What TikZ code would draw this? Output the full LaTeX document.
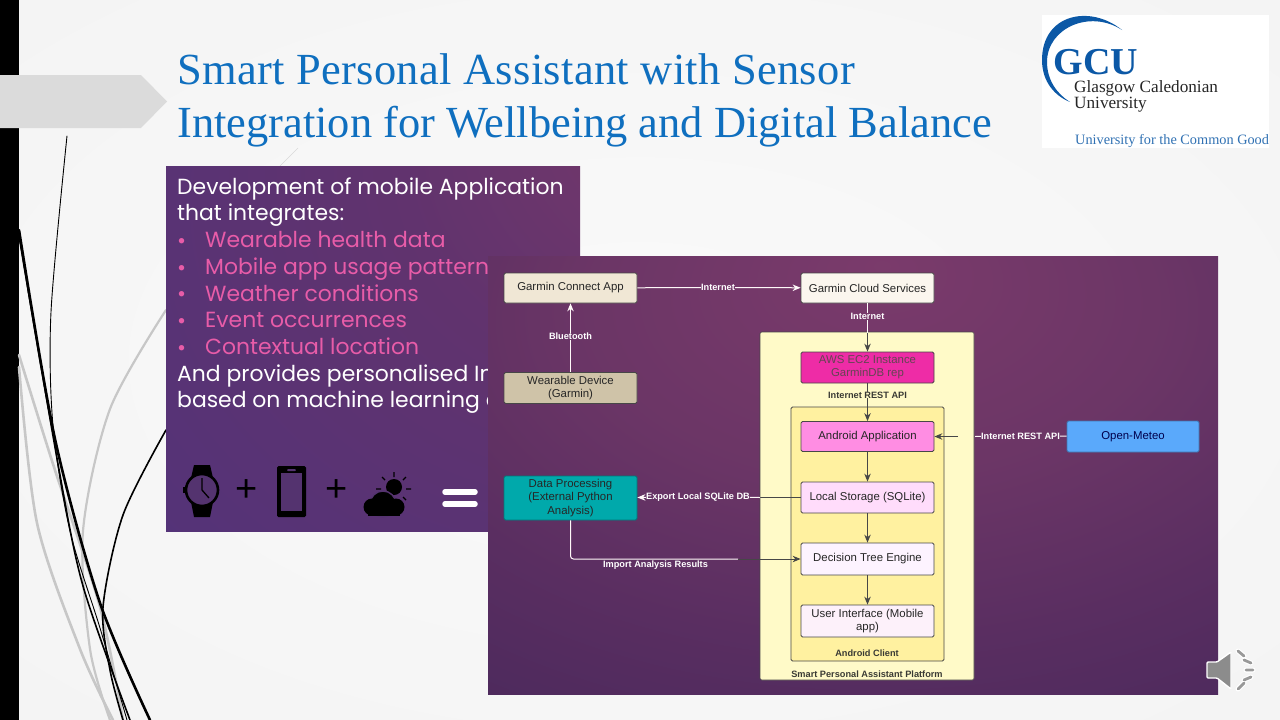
\documentclass[tikz,border=0pt]{standalone}
\usepackage{fontspec}
\setmainfont{Liberation Sans}
\newfontfamily\titlefont{Liberation Serif}
\newfontfamily\gothicfont{Poppins}
\usetikzlibrary{
    arrows.meta,
    shapes,
    backgrounds,
    calc,
    positioning,
}
\definecolor{titleBlue}{HTML}{0F6FBF}
\definecolor{logoBlue}{HTML}{0B58A6}
\definecolor{softPink}{HTML}{E85CA8}
\definecolor{edgeDark}{HTML}{474747}
\definecolor{labelDark}{HTML}{3A3A34}
\definecolor{iconBack}{HTML}{54336F}
\definecolor{platformYellow}{HTML}{FFFAC8}
\definecolor{clientYellow}{HTML}{FFF1A0}
\definecolor{connectBeige}{HTML}{F0E7D5}
\definecolor{cloudCream}{HTML}{FBF6EE}
\definecolor{wearableTan}{HTML}{CFC3A8}
\definecolor{processTeal}{HTML}{00A9AB}
\definecolor{awsMagenta}{HTML}{EE2CA6}
\definecolor{appPink}{HTML}{FF8DE3}
\definecolor{storePink}{HTML}{FFDCFB}
\definecolor{enginePale}{HTML}{FDF3FF}
\definecolor{screenPale}{HTML}{FDF1FA}
\definecolor{meteoBlue}{HTML}{5AA9FB}
\pgfdeclareradialshading{slideGlow}{\pgfpoint{0bp}{0bp}}{
    color(0bp)=(white!98!black); color(30bp)=(white!96!black); color(60bp)=(white!94!black); color(100bp)=(white!93!black)}
\pgfdeclareradialshading{rightGlow}{\pgfpoint{2bp}{24bp}}{
    rgb(0bp)=(.48,.23,.42); rgb(20bp)=(.42,.21,.40); rgb(35bp)=(.35,.18,.38); rgb(50bp)=(.29,.16,.36); rgb(100bp)=(.27,.15,.34)}
\pgfdeclareradialshading{leftGlow}{\pgfpoint{48bp}{38bp}}{
    rgb(0bp)=(.49,.23,.41); rgb(30bp)=(.38,.20,.43); rgb(60bp)=(.33,.20,.47); rgb(100bp)=(.25,.15,.36)}

\begin{document}
\begin{tikzpicture}[x=1pt,y=-1pt,>={Stealth[length=8pt,width=6.5pt]},auto]

    \tikzstyle{commonNode}=[rectangle, rounded corners=1.5pt, draw=edgeDark, line width=0.8pt, text=black!85, align=center, minimum width=133pt, inner sep=0pt, font=\fontsize{11.4}{13.2}\selectfont]
    \tikzstyle{flowLight}=[->, white!90!pink, line width=1pt]
    \tikzstyle{plainLight}=[white!90!pink, line width=1pt]
    \tikzstyle{flowDark}=[->, edgeDark, line width=1pt]
    \tikzstyle{plainDark}=[edgeDark, line width=1pt]
    \tikzstyle{lightLabel}=[inner sep=0pt, text=white, font=\fontsize{9.2}{10}\selectfont\bfseries]
    \tikzstyle{darkLabel}=[lightLabel, text=labelDark]
    \tikzstyle{gothicLine}=[anchor=west, inner sep=0pt, align=left, font=\fontsize{21.9}{26.65}\selectfont\gothicfont]
    \tikzstyle{grassBlack}=[black, line cap=round]
    \tikzstyle{grassGray}=[black!22, line cap=round]

    % Slide background
    \shade[shading=slideGlow] (0,0) rectangle (1280,720);
    \useasboundingbox (0,0) rectangle (1280,720);
    \fill[black] (0,0) rectangle (19,720);
    \fill[black!14] (0,75) -- (141,75) -- (167,101.5) -- (141,128) -- (0,128) -- cycle;

    % Stems on the left
    \draw[grassGray, line width=2.6pt] plot[smooth] coordinates {(19,355) (53,464) (100,607) (123,720)};
    \draw[grassGray, line width=2.6pt] plot[smooth] coordinates {(19,367) (37,523) (80,649) (113,720)};
    \draw[grassGray, line width=2.2pt] plot[smooth] coordinates {(166,310) (110,409) (83,531) (90,649) (110,720)};
    \draw[black!15, line width=0.6pt] (298,148) -- (280,166);
    \draw[grassBlack, line width=0.9pt] plot[smooth] coordinates {(67,136) (51,312) (53,426) (70,531) (100,628) (127,720)};
    \draw[grassBlack, line width=1.6pt] plot[smooth] coordinates {(19,236) (58,464) (83,586) (130,720)};
    \draw[grassBlack, line width=1.6pt] plot[smooth] coordinates {(166,430) (123,515) (103,607) (110,670) (123,720)};
    \draw[grassBlack, line width=2.6pt] plot[smooth] coordinates {(19,230) (55,439) (100,603) (150,720)};

    % Title
    \node at (177,53) [anchor=north west, inner sep=0pt, align=left, text=titleBlue, font=\fontsize{44.45}{53}\selectfont\titlefont] (title)
        {{\addfontfeature{LetterSpace=0.8}Smart Personal Assistant with Sensor}\\Integration for Wellbeing and Digital Balance};

    % Logo
    \fill[white] (1042,15) rectangle (1269,148);
    \fill[logoBlue] (1122,30) .. controls (1090,4) and (1042,14) .. (1042,60) .. controls (1042,82) and (1055,96) .. (1070,102)
        .. controls (1057,94) and (1047,80) .. (1047,62) .. controls (1047,28) and (1090,9) .. (1122,30) -- cycle;
    \node at (1096,62) [inner sep=0pt, text=logoBlue, font=\fontsize{38}{38}\selectfont\titlefont\bfseries] (logoMark) {GCU};
    \node at (1074,96.5) [anchor=west, inner sep=0pt, align=left, text=black!85, font=\fontsize{17.2}{15.5}\selectfont\titlefont] (logoName) {Glasgow Caledonian\\University};
    \node at (1075,141) [anchor=west, inner sep=0pt, text=logoBlue!85, font=\fontsize{14.3}{14}\selectfont\titlefont] (logoMotto) {University for the Common Good};

    % Left panel
    \shade[shading=leftGlow] (166,166) rectangle (580,531);
    \node at (177,202) [gothicLine, text=white] (intro) {Development of mobile Application\\that integrates:};
    \node at (177,297) [gothicLine, text=softPink] (dots) {\textbullet\\\textbullet\\\textbullet\\\textbullet\\\textbullet};
    \node at (205,293) [gothicLine, text=softPink] (items) {Wearable health data\\Mobile app usage pattern\\Weather conditions\\Event occurrences\\Contextual location};
    \node at (177,389) [gothicLine, text=white] (closing) {And provides personalised Ins\\based on machine learning a};

    % Icons
    \fill[black] (194,465) -- (210,465) -- (213,478) -- (191,478) -- cycle;
    \fill[black] (191,502) -- (213,502) -- (210,517) -- (194,517) -- cycle;
    \draw[black, line width=2.6pt, fill=iconBack] (202,490) circle (16);
    \fill[black] (183,487) rectangle (186,493);
    \draw[black, line width=1.3pt] (202,478) -- (202,490) -- (209,498);
    \fill[black, rounded corners=1.5pt] (277,466) rectangle (306,517);
    \fill[iconBack] (281,473) rectangle (302,511);
    \fill[iconBack, rounded corners=1pt] (287,469) rectangle (296,471);
    \node at (247,491) [inner sep=0pt, text=black, font=\fontsize{38}{38}\selectfont] (plusOne) {+};
    \node at (337,491) [inner sep=0pt, text=black, font=\fontsize{38}{38}\selectfont] (plusTwo) {+};
    \fill[black] (394,487) circle (8);
    \draw[black, line width=1.4pt] (394,472) -- (394,477) (406,477) -- (403,480) (411,489) -- (406,489) (382,477) -- (385,480) (376,489) -- (381,489) (406,500) -- (403,497);
    \draw[iconBack, line width=1.4pt, fill=black] (383,504) circle (13);
    \fill[black] (372,507) circle (8.5);
    \fill[black] (396,507) circle (8.5);
    \fill[black] (368,507) rectangle (400,515.5);
    \draw[white, line width=5.5pt, line cap=round] (445,492) -- (475,492) (445,504) -- (475,504);

    % Right panel
    \shade[shading=rightGlow] (488,256) rectangle (1218,694);

    % Containers
    \node at (867,506) [draw=edgeDark, rounded corners=1.5pt, line width=0.6pt, fill=platformYellow, minimum width=214pt, minimum height=348pt, inner sep=0pt] (platform) {};
    \node at (867.5,534) [draw=edgeDark, rounded corners=1.5pt, line width=0.9pt, fill=clientYellow, minimum width=153pt, minimum height=254pt, inner sep=0pt] (client) {};
    \node at (867,674.5) [darkLabel] (platformLabel) {Smart Personal Assistant Platform};
    \node at (867,653) [darkLabel] (clientLabel) {Android Client};

    % Files and modules
    \node at (570.5,288) [commonNode, fill=connectBeige, minimum height=30pt] (GCA) {Garmin Connect App};
    \node at (867.5,288) [commonNode, fill=cloudCream, minimum height=30pt] (GCS) {Garmin Cloud Services};
    \node at (570.5,388) [commonNode, fill=wearableTan, minimum height=31pt] (WD) {Wearable Device\\(Garmin)};
    \node at (570.5,498) [commonNode, draw=processTeal!70!black, fill=processTeal, minimum height=44pt] (DP) {Data Processing\\(External Python\\Analysis)};
    \node at (867.5,367.5) [commonNode, fill=awsMagenta, text=black!70!magenta, minimum height=31pt] (AWS) {AWS EC2 Instance\\GarminDB rep};
    \node at (867.5,436.5) [commonNode, fill=appPink, minimum height=30pt] (APP) {Android Application};
    \node at (867.5,497.5) [commonNode, fill=storePink, minimum height=31pt] (LS) {Local Storage (SQLite)};
    \node at (867.5,559) [commonNode, fill=enginePale, minimum height=32pt] (DT) {Decision Tree Engine};
    \node at (867.5,621) [commonNode, fill=screenPale, minimum height=32pt] (UI) {User Interface (Mobile\\app)};
    \node at (1133,436.5) [commonNode, draw=meteoBlue!70!black, fill=meteoBlue, text=blue!30!black, minimum width=132pt, minimum height=31pt] (OM) {Open-Meteo};

    % Free ends
    \coordinate (cloudEnd) at (867.5,333);
    \coordinate (meteoEnd) at (975,436.5);
    \coordinate (meteoIn) at (958,436.5);
    \coordinate (exportEnd) at (760,497.5);
    \coordinate (importEnd) at (738,559);

    % Connectors and their labels
    \node at (718,287.5) [lightLabel] (netOne) {Internet}
        edge [plainLight] (GCA)
        edge [flowLight] (GCS);
    \node at (570.5,336.5) [lightLabel] (bluetooth) {Bluetooth}
        edge [plainLight] (WD)
        edge [flowLight] (GCA);
    \node at (867.5,316.5) [lightLabel] (netTwo) {Internet}
        edge [plainLight] (GCS)
        edge [plainLight] (cloudEnd);
    \draw[flowDark] (cloudEnd) -- (AWS);
    \node at (867.5,395) [darkLabel] (restOne) {Internet REST API}
        edge [plainDark] (AWS)
        edge [flowDark] (APP);
    \node at (1020.5,436) [lightLabel] (restTwo) {Internet REST API}
        edge [plainLight] (OM)
        edge [plainLight] (meteoEnd);
    \draw[flowDark] (meteoIn) -- (APP);
    \draw[flowDark] (APP) -- (LS);
    \draw[flowDark] (LS) -- (DT);
    \draw[flowDark] (DT) -- (UI);
    \draw[plainDark] (LS) -- (exportEnd);
    \node at (698,497) [lightLabel] (exportLabel) {Export Local SQLite DB}
        edge [plainLight] (exportEnd)
        edge [flowLight] (DP);
    \draw[plainLight, rounded corners=3pt] (DP.south) |- (importEnd);
    \draw[flowDark] (importEnd) -- (DT);
    \node at (655.5,565.5) [lightLabel] (importLabel) {Import Analysis Results};

    % Speaker
    \draw[white, line width=1.4pt, fill=black!45, rounded corners=1pt] (1207,662) -- (1217,662) -- (1231,652) -- (1231,689) -- (1217,678) -- (1207,678) -- cycle;
    \draw[white, line width=5pt, line cap=round] (1238,651) -- (1244,656) (1244,660) -- (1251,663) (1246,670) -- (1253,670) (1244,680) -- (1251,677) (1238,689) -- (1244,683);
    \draw[black!40, line width=2.8pt, line cap=round] (1238,651) -- (1244,656) (1244,660) -- (1251,663) (1246,670) -- (1253,670) (1244,680) -- (1251,677) (1238,689) -- (1244,683);

\end{tikzpicture}
\end{document}
